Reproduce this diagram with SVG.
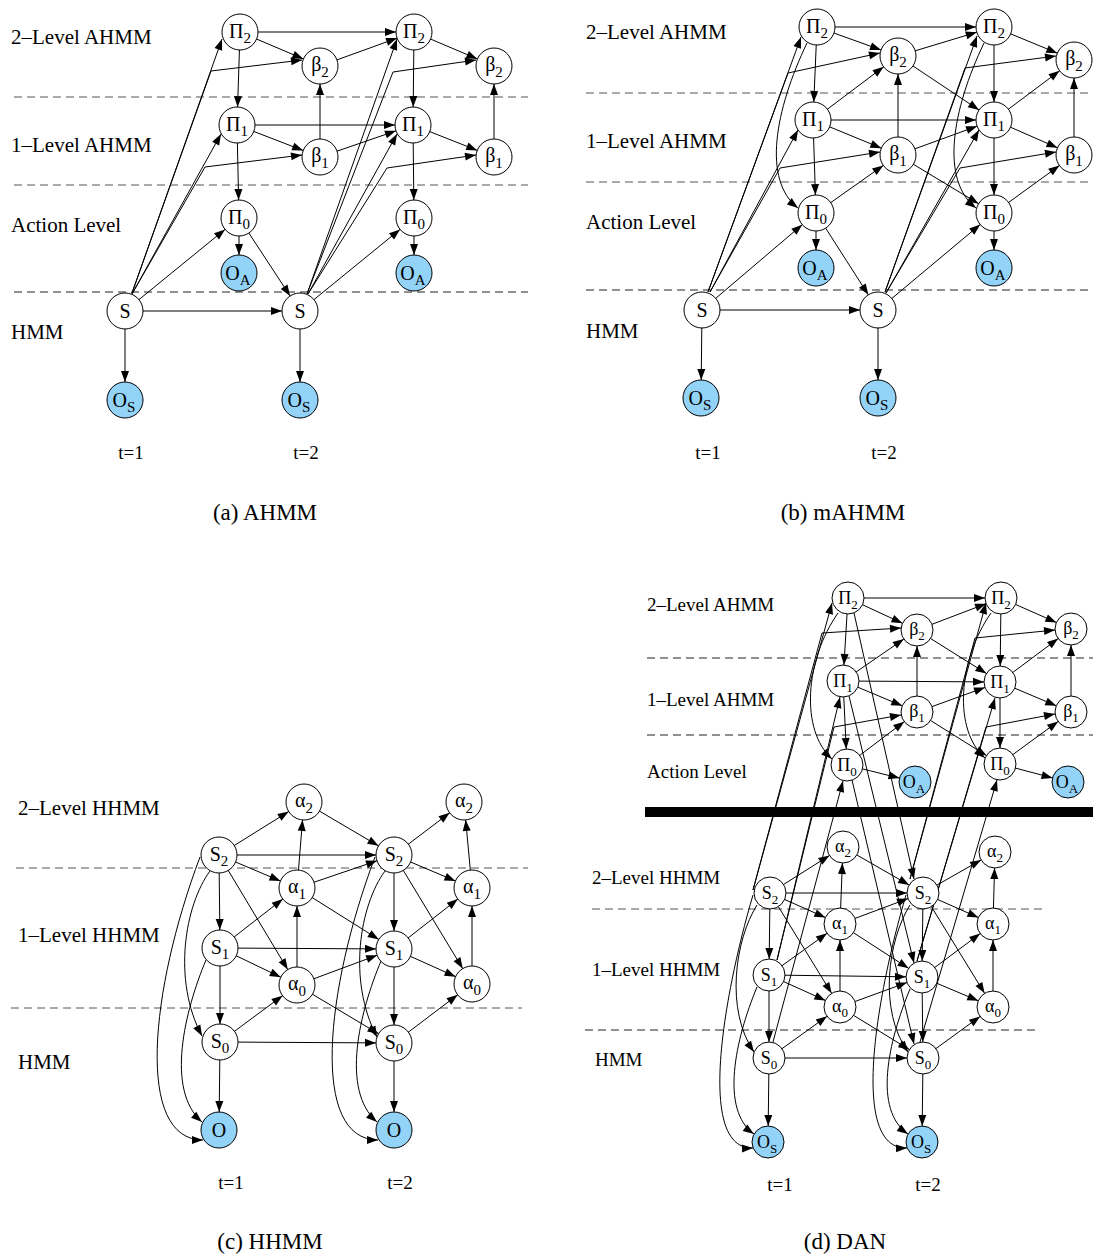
<svg xmlns="http://www.w3.org/2000/svg" width="1094" height="1257" viewBox="0 0 1094 1257">
<style>
.e{stroke:#000;stroke-width:1;fill:none}
.m18{marker-end:url(#m18)}
.m16{marker-end:url(#m16)}
.m0{marker-end:url(#m0)}
.n{fill:#fff;stroke:#000;stroke-width:1}
.o{fill:#94d3f8;stroke:#000;stroke-width:1}
.d{stroke:#555;stroke-width:1;stroke-dasharray:8 5;fill:none}
.dk{stroke:#222;stroke-width:1;stroke-dasharray:8 5;fill:none}
text{font-family:"Liberation Serif","Times New Roman",serif;fill:#000}
.lb{font-size:21px}
.lbd{font-size:19px}
.t{font-size:19px;text-anchor:middle}
.cap{font-size:23px;text-anchor:middle}
.nt{font-size:20px;text-anchor:middle}
.ntd{font-size:18px;text-anchor:middle}
.sb{font-size:15px}
.sbd{font-size:13px}
</style>
<defs>
<marker id="m18" viewBox="0 0 11 8" markerWidth="11" markerHeight="8" refX="29" refY="4" orient="auto" markerUnits="userSpaceOnUse" overflow="visible"><path d="M0,0 L11,4 L0,8 z" fill="#000"/></marker>
<marker id="m16" viewBox="0 0 11 8" markerWidth="11" markerHeight="8" refX="27" refY="4" orient="auto" markerUnits="userSpaceOnUse" overflow="visible"><path d="M0,0 L11,4 L0,8 z" fill="#000"/></marker>
<marker id="m0" viewBox="0 0 11 8" markerWidth="11" markerHeight="8" refX="11" refY="4" orient="auto" markerUnits="userSpaceOnUse" overflow="visible"><path d="M0,0 L11,4 L0,8 z" fill="#000"/></marker>
</defs>
<rect x="0" y="0" width="1094" height="1257" fill="#fff"/>

<g id="separators">
<line class="d" x1="14" y1="97" x2="528" y2="97"/>
<line class="d" x1="14" y1="185" x2="528" y2="185"/>
<line class="dk" x1="14" y1="292" x2="528" y2="292"/>
<line class="d" x1="586" y1="93" x2="1090" y2="93"/>
<line class="d" x1="586" y1="182" x2="1090" y2="182"/>
<line class="dk" x1="586" y1="290" x2="1090" y2="290"/>
<line class="d" x1="16" y1="868" x2="528" y2="868"/>
<line class="d" x1="11" y1="1008" x2="522" y2="1008"/>
<line class="dk" x1="647" y1="658" x2="1093" y2="658"/>
<line class="dk" x1="647" y1="735" x2="1093" y2="735"/>
<line class="d" x1="592" y1="909" x2="1042" y2="909"/>
<line class="dk" x1="585" y1="1030" x2="1035" y2="1030"/>
<rect x="645" y="807" width="448" height="10" fill="#000"/>
</g>

<g id="labels">
<text class="lb" x="11" y="44">2–Level AHMM</text>
<text class="lb" x="11" y="152">1–Level AHMM</text>
<text class="lb" x="11" y="232">Action Level</text>
<text class="lb" x="11" y="339">HMM</text>
<text class="t" x="131" y="459">t=1</text>
<text class="t" x="306" y="459">t=2</text>
<text class="cap" x="265" y="520">(a) AHMM</text>
<text class="lb" x="586" y="39">2–Level AHMM</text>
<text class="lb" x="586" y="148">1–Level AHMM</text>
<text class="lb" x="586" y="229">Action Level</text>
<text class="lb" x="586" y="338">HMM</text>
<text class="t" x="708" y="459">t=1</text>
<text class="t" x="884" y="459">t=2</text>
<text class="cap" x="843" y="520">(b) mAHMM</text>
<text class="lb" x="18" y="815">2–Level HHMM</text>
<text class="lb" x="18" y="942">1–Level HHMM</text>
<text class="lb" x="18" y="1069">HMM</text>
<text class="t" x="231" y="1189">t=1</text>
<text class="t" x="400" y="1189">t=2</text>
<text class="cap" x="270" y="1249">(c) HHMM</text>
<text class="lbd" x="647" y="611">2–Level AHMM</text>
<text class="lbd" x="647" y="706">1–Level AHMM</text>
<text class="lbd" x="647" y="778">Action Level</text>
<text class="lbd" x="592" y="884">2–Level HHMM</text>
<text class="lbd" x="592" y="976">1–Level HHMM</text>
<text class="lbd" x="595" y="1066">HMM</text>
<text class="t" x="780" y="1191">t=1</text>
<text class="t" x="928" y="1191">t=2</text>
<text class="cap" x="845" y="1249">(d) DAN</text>
</g>

<g id="connectors">
<!-- (a) -->
<g class="e m18">
<line x1="240" y1="32" x2="414" y2="32"/>
<line x1="240" y1="32" x2="320" y2="66"/>
<line x1="320" y1="66" x2="414" y2="32"/>
<line x1="414" y1="32" x2="494" y2="66"/>
<line x1="240" y1="32" x2="237" y2="125"/>
<line x1="414" y1="32" x2="413" y2="125"/>
<line x1="237" y1="125" x2="239" y2="218"/>
<line x1="413" y1="125" x2="414" y2="218"/>
<line x1="239" y1="218" x2="239" y2="273"/>
<line x1="414" y1="218" x2="414" y2="273"/>
<line x1="320" y1="157" x2="320" y2="66"/>
<line x1="494" y1="157" x2="494" y2="66"/>
<line x1="237" y1="125" x2="413" y2="125"/>
<line x1="237" y1="125" x2="320" y2="157"/>
<line x1="320" y1="157" x2="413" y2="125"/>
<line x1="413" y1="125" x2="494" y2="157"/>
<line x1="125" y1="311" x2="300" y2="311"/>
<line x1="125" y1="311" x2="125" y2="400"/>
<line x1="300" y1="311" x2="300" y2="400"/>
<line x1="239" y1="218" x2="300" y2="311"/>
<line x1="125" y1="311" x2="239" y2="218"/>
<line x1="300" y1="311" x2="414" y2="218"/>
</g>
<g class="e m0">
<line x1="132" y1="293" x2="222" y2="39"/>
<line x1="132" y1="294" x2="221" y2="134"/>
<polyline points="132,293 211,71 302,60"/>
<polyline points="132,294 205,167 302,155"/>
<line x1="307" y1="294" x2="397" y2="39"/>
<line x1="308" y1="294" x2="397" y2="134"/>
<polyline points="307,294 393,72 476,60"/>
<polyline points="308,294 387,168 476,155"/>
</g>
<!-- (b) -->
<g class="e m18">
<line x1="817" y1="27" x2="994" y2="27"/>
<line x1="817" y1="27" x2="898" y2="56"/>
<line x1="898" y1="56" x2="994" y2="27"/>
<line x1="994" y1="27" x2="1074" y2="60"/>
<line x1="817" y1="27" x2="813" y2="120"/>
<line x1="994" y1="27" x2="994" y2="120"/>
<line x1="813" y1="120" x2="816" y2="213"/>
<line x1="994" y1="120" x2="994" y2="213"/>
<line x1="816" y1="213" x2="816" y2="268"/>
<line x1="994" y1="213" x2="994" y2="268"/>
<line x1="898" y1="155" x2="898" y2="56"/>
<line x1="1074" y1="155" x2="1074" y2="60"/>
<line x1="813" y1="120" x2="994" y2="120"/>
<line x1="813" y1="120" x2="898" y2="155"/>
<line x1="898" y1="155" x2="994" y2="120"/>
<line x1="994" y1="120" x2="1074" y2="155"/>
<line x1="813" y1="120" x2="898" y2="56"/>
<line x1="994" y1="120" x2="1074" y2="60"/>
<line x1="816" y1="213" x2="898" y2="155"/>
<line x1="994" y1="213" x2="1074" y2="155"/>
<line x1="898" y1="56" x2="994" y2="120"/>
<line x1="898" y1="155" x2="994" y2="213"/>
<line x1="702" y1="310" x2="878" y2="310"/>
<line x1="702" y1="310" x2="701" y2="398"/>
<line x1="878" y1="310" x2="878" y2="398"/>
<line x1="816" y1="213" x2="878" y2="310"/>
<line x1="702" y1="310" x2="816" y2="213"/>
<line x1="878" y1="310" x2="994" y2="213"/>
</g>
<g class="e m0">
<path d="M807,43 C775,110 762,180 798,208"/>
<path d="M984,43 C952,110 940,180 976,208"/>
<line x1="708" y1="292" x2="801" y2="37"/>
<polyline points="708,292 788,73 880,53"/>
<line x1="710" y1="292" x2="798" y2="130"/>
<polyline points="710,292 780,168 880,152"/>
<line x1="885" y1="292" x2="977" y2="36"/>
<polyline points="885,292 965,68 1056,56"/>
<line x1="886" y1="293" x2="979" y2="130"/>
<polyline points="886,293 960,168 1056,152"/>
</g>
<!-- (c) -->
<g class="e m18">
<line x1="219" y1="855" x2="304" y2="802"/>
<line x1="297" y1="888" x2="304" y2="802"/>
<line x1="304" y1="802" x2="394" y2="855"/>
<line x1="219" y1="855" x2="394" y2="855"/>
<line x1="219" y1="855" x2="297" y2="888"/>
<line x1="297" y1="888" x2="394" y2="855"/>
<line x1="219" y1="855" x2="297" y2="985"/>
<line x1="219" y1="855" x2="220" y2="948"/>
<line x1="220" y1="948" x2="220" y2="1042"/>
<line x1="220" y1="1042" x2="219" y2="1130"/>
<line x1="220" y1="948" x2="297" y2="888"/>
<line x1="220" y1="948" x2="394" y2="949"/>
<line x1="220" y1="948" x2="297" y2="985"/>
<line x1="297" y1="985" x2="297" y2="888"/>
<line x1="297" y1="985" x2="394" y2="949"/>
<line x1="297" y1="888" x2="394" y2="949"/>
<line x1="297" y1="985" x2="394" y2="1043"/>
<line x1="220" y1="1042" x2="297" y2="985"/>
<line x1="220" y1="1042" x2="394" y2="1043"/>
<line x1="394" y1="855" x2="464" y2="802"/>
<line x1="472" y1="888" x2="464" y2="802"/>
<line x1="394" y1="855" x2="472" y2="888"/>
<line x1="394" y1="855" x2="472" y2="984"/>
<line x1="394" y1="855" x2="394" y2="949"/>
<line x1="394" y1="949" x2="394" y2="1043"/>
<line x1="394" y1="1043" x2="394" y2="1130"/>
<line x1="394" y1="949" x2="472" y2="888"/>
<line x1="394" y1="949" x2="472" y2="984"/>
<line x1="472" y1="984" x2="472" y2="888"/>
<line x1="394" y1="1043" x2="472" y2="984"/>
</g>
<g class="e m0">
<path d="M210,871 C185,905 172,980 202,1036"/>
<path d="M206,960 C185,1010 165,1090 202,1122"/>
<path d="M200,857 C150,990 135,1140 203,1140"/>
<path d="M385,871 C360,905 347,980 377,1037"/>
<path d="M381,961 C360,1011 340,1090 377,1122"/>
<path d="M375,857 C325,990 310,1140 378,1140"/>
</g>
<!-- (d) upper -->
<g class="e m16">
<line x1="848" y1="598" x2="1001" y2="598"/>
<line x1="848" y1="598" x2="917" y2="630"/>
<line x1="917" y1="630" x2="1001" y2="598"/>
<line x1="1001" y1="598" x2="1071" y2="629"/>
<line x1="848" y1="598" x2="843" y2="681"/>
<line x1="1001" y1="598" x2="1000" y2="682"/>
<line x1="843" y1="681" x2="847" y2="765"/>
<line x1="1000" y1="682" x2="1000" y2="764"/>
<line x1="917" y1="712" x2="917" y2="630"/>
<line x1="1071" y1="712" x2="1071" y2="629"/>
<line x1="843" y1="681" x2="1000" y2="682"/>
<line x1="843" y1="681" x2="917" y2="712"/>
<line x1="917" y1="712" x2="1000" y2="682"/>
<line x1="1000" y1="682" x2="1071" y2="712"/>
<line x1="843" y1="681" x2="917" y2="630"/>
<line x1="1000" y1="682" x2="1071" y2="629"/>
<line x1="847" y1="765" x2="917" y2="712"/>
<line x1="1000" y1="764" x2="1071" y2="712"/>
<line x1="917" y1="630" x2="1000" y2="682"/>
<line x1="917" y1="712" x2="1000" y2="764"/>
<line x1="847" y1="765" x2="915" y2="782"/>
<line x1="1000" y1="764" x2="1068" y2="782"/>
</g>
<g class="e m0">
<path d="M838,613 C805,660 800,730 832,759"/>
<path d="M991,613 C958,660 953,730 985,758"/>
<line x1="753" y1="890" x2="832" y2="603"/>
<polyline points="753,890 822,633 901,628"/>
<line x1="777" y1="960" x2="840" y2="697"/>
<polyline points="777,960 834,727 901,715"/>
<line x1="773" y1="1042" x2="843" y2="781"/>
<line x1="910" y1="879" x2="986" y2="603"/>
<polyline points="910,879 975,638 1055,630"/>
<line x1="917" y1="961" x2="995" y2="698"/>
<polyline points="917,961 986,727 1055,714"/>
<line x1="920" y1="1042" x2="997" y2="780"/>
<line x1="854" y1="613" x2="914" y2="879"/>
<line x1="849" y1="696" x2="914" y2="963"/>
<line x1="852" y1="780" x2="914" y2="1044"/>
</g>
<!-- (d) lower -->
<g class="e m16">
<line x1="770" y1="893" x2="843" y2="847"/>
<line x1="840" y1="924" x2="843" y2="847"/>
<line x1="843" y1="847" x2="923" y2="893"/>
<line x1="770" y1="893" x2="923" y2="893"/>
<line x1="770" y1="893" x2="840" y2="924"/>
<line x1="840" y1="924" x2="923" y2="893"/>
<line x1="770" y1="893" x2="840" y2="1007"/>
<line x1="770" y1="893" x2="769" y2="975"/>
<line x1="769" y1="975" x2="769" y2="1058"/>
<line x1="769" y1="1058" x2="768" y2="1142"/>
<line x1="769" y1="975" x2="840" y2="924"/>
<line x1="769" y1="975" x2="922" y2="977"/>
<line x1="769" y1="975" x2="840" y2="1007"/>
<line x1="840" y1="1007" x2="840" y2="924"/>
<line x1="840" y1="1007" x2="922" y2="977"/>
<line x1="840" y1="924" x2="922" y2="977"/>
<line x1="840" y1="1007" x2="923" y2="1058"/>
<line x1="769" y1="1058" x2="840" y2="1007"/>
<line x1="769" y1="1058" x2="923" y2="1058"/>
<line x1="923" y1="893" x2="995" y2="852"/>
<line x1="993" y1="924" x2="995" y2="852"/>
<line x1="923" y1="893" x2="993" y2="924"/>
<line x1="923" y1="893" x2="993" y2="1007"/>
<line x1="923" y1="893" x2="922" y2="977"/>
<line x1="922" y1="977" x2="923" y2="1058"/>
<line x1="923" y1="1058" x2="922" y2="1142"/>
<line x1="922" y1="977" x2="993" y2="924"/>
<line x1="922" y1="977" x2="993" y2="1007"/>
<line x1="993" y1="1007" x2="993" y2="924"/>
<line x1="923" y1="1058" x2="993" y2="1007"/>
</g>
<g class="e m0">
<path d="M757,905 C735,940 725,1010 754,1052"/>
<path d="M757,987 C735,1040 720,1110 754,1134"/>
<path d="M753,895 C725,990 695,1150 753,1148"/>
<path d="M910,905 C888,940 878,1010 908,1052"/>
<path d="M910,989 C888,1042 873,1110 908,1134"/>
<path d="M906,895 C878,990 848,1150 907,1148"/>
</g>
</g>

<!-- nodes (a) -->
<g id="a-pi2-t1"><circle class="n" cx="240" cy="32" r="18"/><text class="nt" x="240" y="38">Π<tspan class="sb" dy="5">2</tspan></text></g>
<g id="a-beta2-t1"><circle class="n" cx="320" cy="66" r="18"/><text class="nt" x="320" y="71">β<tspan class="sb" dy="6">2</tspan></text></g>
<g id="a-pi2-t2"><circle class="n" cx="414" cy="32" r="18"/><text class="nt" x="414" y="38">Π<tspan class="sb" dy="5">2</tspan></text></g>
<g id="a-beta2-t2"><circle class="n" cx="494" cy="66" r="18"/><text class="nt" x="494" y="71">β<tspan class="sb" dy="6">2</tspan></text></g>
<g id="a-pi1-t1"><circle class="n" cx="237" cy="125" r="18"/><text class="nt" x="237" y="131">Π<tspan class="sb" dy="5">1</tspan></text></g>
<g id="a-beta1-t1"><circle class="n" cx="320" cy="157" r="18"/><text class="nt" x="320" y="162">β<tspan class="sb" dy="6">1</tspan></text></g>
<g id="a-pi1-t2"><circle class="n" cx="413" cy="125" r="18"/><text class="nt" x="413" y="131">Π<tspan class="sb" dy="5">1</tspan></text></g>
<g id="a-beta1-t2"><circle class="n" cx="494" cy="157" r="18"/><text class="nt" x="494" y="162">β<tspan class="sb" dy="6">1</tspan></text></g>
<g id="a-pi0-t1"><circle class="n" cx="239" cy="218" r="18"/><text class="nt" x="239" y="224">Π<tspan class="sb" dy="5">0</tspan></text></g>
<g id="a-pi0-t2"><circle class="n" cx="414" cy="218" r="18"/><text class="nt" x="414" y="224">Π<tspan class="sb" dy="5">0</tspan></text></g>
<g id="a-oa-t1"><circle class="o" cx="239" cy="273" r="18"/><text class="nt" x="238" y="280">O<tspan class="sb" dy="5">A</tspan></text></g>
<g id="a-oa-t2"><circle class="o" cx="414" cy="273" r="18"/><text class="nt" x="413" y="280">O<tspan class="sb" dy="5">A</tspan></text></g>
<g id="a-s-t1"><circle class="n" cx="125" cy="311" r="18"/><text class="nt" x="125" y="318">S</text></g>
<g id="a-s-t2"><circle class="n" cx="300" cy="311" r="18"/><text class="nt" x="300" y="318">S</text></g>
<g id="a-os-t1"><circle class="o" cx="125" cy="400" r="18"/><text class="nt" x="124" y="407">O<tspan class="sb" dy="5">S</tspan></text></g>
<g id="a-os-t2"><circle class="o" cx="300" cy="400" r="18"/><text class="nt" x="299" y="407">O<tspan class="sb" dy="5">S</tspan></text></g>

<!-- nodes (b) -->
<g id="b-pi2-t1"><circle class="n" cx="817" cy="27" r="18"/><text class="nt" x="817" y="33">Π<tspan class="sb" dy="5">2</tspan></text></g>
<g id="b-beta2-t1"><circle class="n" cx="898" cy="56" r="18"/><text class="nt" x="898" y="61">β<tspan class="sb" dy="6">2</tspan></text></g>
<g id="b-pi2-t2"><circle class="n" cx="994" cy="27" r="18"/><text class="nt" x="994" y="33">Π<tspan class="sb" dy="5">2</tspan></text></g>
<g id="b-beta2-t2"><circle class="n" cx="1074" cy="60" r="18"/><text class="nt" x="1074" y="65">β<tspan class="sb" dy="6">2</tspan></text></g>
<g id="b-pi1-t1"><circle class="n" cx="813" cy="120" r="18"/><text class="nt" x="813" y="126">Π<tspan class="sb" dy="5">1</tspan></text></g>
<g id="b-beta1-t1"><circle class="n" cx="898" cy="155" r="18"/><text class="nt" x="898" y="160">β<tspan class="sb" dy="6">1</tspan></text></g>
<g id="b-pi1-t2"><circle class="n" cx="994" cy="120" r="18"/><text class="nt" x="994" y="126">Π<tspan class="sb" dy="5">1</tspan></text></g>
<g id="b-beta1-t2"><circle class="n" cx="1074" cy="155" r="18"/><text class="nt" x="1074" y="160">β<tspan class="sb" dy="6">1</tspan></text></g>
<g id="b-pi0-t1"><circle class="n" cx="816" cy="213" r="18"/><text class="nt" x="816" y="219">Π<tspan class="sb" dy="5">0</tspan></text></g>
<g id="b-pi0-t2"><circle class="n" cx="994" cy="213" r="18"/><text class="nt" x="994" y="219">Π<tspan class="sb" dy="5">0</tspan></text></g>
<g id="b-oa-t1"><circle class="o" cx="816" cy="268" r="18"/><text class="nt" x="815" y="275">O<tspan class="sb" dy="5">A</tspan></text></g>
<g id="b-oa-t2"><circle class="o" cx="994" cy="268" r="18"/><text class="nt" x="993" y="275">O<tspan class="sb" dy="5">A</tspan></text></g>
<g id="b-s-t1"><circle class="n" cx="702" cy="310" r="18"/><text class="nt" x="702" y="317">S</text></g>
<g id="b-s-t2"><circle class="n" cx="878" cy="310" r="18"/><text class="nt" x="878" y="317">S</text></g>
<g id="b-os-t1"><circle class="o" cx="701" cy="398" r="18"/><text class="nt" x="700" y="405">O<tspan class="sb" dy="5">S</tspan></text></g>
<g id="b-os-t2"><circle class="o" cx="878" cy="398" r="18"/><text class="nt" x="877" y="405">O<tspan class="sb" dy="5">S</tspan></text></g>

<!-- nodes (c) -->
<g id="c-alpha2-t1"><circle class="n" cx="304" cy="802" r="18"/><text class="nt" x="304" y="807">α<tspan class="sb" dy="6">2</tspan></text></g>
<g id="c-alpha2-t2"><circle class="n" cx="464" cy="802" r="18"/><text class="nt" x="464" y="807">α<tspan class="sb" dy="6">2</tspan></text></g>
<g id="c-s2-t1"><circle class="n" cx="219" cy="855" r="18"/><text class="nt" x="219" y="861">S<tspan class="sb" dy="5">2</tspan></text></g>
<g id="c-s2-t2"><circle class="n" cx="394" cy="855" r="18"/><text class="nt" x="394" y="861">S<tspan class="sb" dy="5">2</tspan></text></g>
<g id="c-alpha1-t1"><circle class="n" cx="297" cy="888" r="18"/><text class="nt" x="297" y="893">α<tspan class="sb" dy="6">1</tspan></text></g>
<g id="c-alpha1-t2"><circle class="n" cx="472" cy="888" r="18"/><text class="nt" x="472" y="893">α<tspan class="sb" dy="6">1</tspan></text></g>
<g id="c-s1-t1"><circle class="n" cx="220" cy="948" r="18"/><text class="nt" x="220" y="954">S<tspan class="sb" dy="5">1</tspan></text></g>
<g id="c-s1-t2"><circle class="n" cx="394" cy="949" r="18"/><text class="nt" x="394" y="955">S<tspan class="sb" dy="5">1</tspan></text></g>
<g id="c-alpha0-t1"><circle class="n" cx="297" cy="985" r="18"/><text class="nt" x="297" y="990">α<tspan class="sb" dy="6">0</tspan></text></g>
<g id="c-alpha0-t2"><circle class="n" cx="472" cy="984" r="18"/><text class="nt" x="472" y="989">α<tspan class="sb" dy="6">0</tspan></text></g>
<g id="c-s0-t1"><circle class="n" cx="220" cy="1042" r="18"/><text class="nt" x="220" y="1048">S<tspan class="sb" dy="5">0</tspan></text></g>
<g id="c-s0-t2"><circle class="n" cx="394" cy="1043" r="18"/><text class="nt" x="394" y="1049">S<tspan class="sb" dy="5">0</tspan></text></g>
<g id="c-o-t1"><circle class="o" cx="219" cy="1130" r="18"/><text class="nt" x="219" y="1137">O</text></g>
<g id="c-o-t2"><circle class="o" cx="394" cy="1130" r="18"/><text class="nt" x="394" y="1137">O</text></g>

<!-- nodes (d) -->
<g id="d-pi2-t1"><circle class="n" cx="848" cy="598" r="16"/><text class="ntd" x="848" y="604">Π<tspan class="sbd" dy="4.5">2</tspan></text></g>
<g id="d-beta2-t1"><circle class="n" cx="917" cy="630" r="16"/><text class="ntd" x="917" y="635">β<tspan class="sbd" dy="5">2</tspan></text></g>
<g id="d-pi2-t2"><circle class="n" cx="1001" cy="598" r="16"/><text class="ntd" x="1001" y="604">Π<tspan class="sbd" dy="4.5">2</tspan></text></g>
<g id="d-beta2-t2"><circle class="n" cx="1071" cy="629" r="16"/><text class="ntd" x="1071" y="634">β<tspan class="sbd" dy="5">2</tspan></text></g>
<g id="d-pi1-t1"><circle class="n" cx="843" cy="681" r="16"/><text class="ntd" x="843" y="687">Π<tspan class="sbd" dy="4.5">1</tspan></text></g>
<g id="d-beta1-t1"><circle class="n" cx="917" cy="712" r="16"/><text class="ntd" x="917" y="717">β<tspan class="sbd" dy="5">1</tspan></text></g>
<g id="d-pi1-t2"><circle class="n" cx="1000" cy="682" r="16"/><text class="ntd" x="1000" y="688">Π<tspan class="sbd" dy="4.5">1</tspan></text></g>
<g id="d-beta1-t2"><circle class="n" cx="1071" cy="712" r="16"/><text class="ntd" x="1071" y="717">β<tspan class="sbd" dy="5">1</tspan></text></g>
<g id="d-pi0-t1"><circle class="n" cx="847" cy="765" r="16"/><text class="ntd" x="847" y="771">Π<tspan class="sbd" dy="4.5">0</tspan></text></g>
<g id="d-oa-t1"><circle class="o" cx="915" cy="782" r="16"/><text class="ntd" x="914" y="788">O<tspan class="sbd" dy="5">A</tspan></text></g>
<g id="d-pi0-t2"><circle class="n" cx="1000" cy="764" r="16"/><text class="ntd" x="1000" y="770">Π<tspan class="sbd" dy="4.5">0</tspan></text></g>
<g id="d-oa-t2"><circle class="o" cx="1068" cy="782" r="16"/><text class="ntd" x="1067" y="788">O<tspan class="sbd" dy="5">A</tspan></text></g>
<g id="d-alpha2-t1"><circle class="n" cx="843" cy="847" r="16"/><text class="ntd" x="843" y="852">α<tspan class="sbd" dy="5">2</tspan></text></g>
<g id="d-alpha2-t2"><circle class="n" cx="995" cy="852" r="16"/><text class="ntd" x="995" y="857">α<tspan class="sbd" dy="5">2</tspan></text></g>
<g id="d-s2-t1"><circle class="n" cx="770" cy="893" r="16"/><text class="ntd" x="770" y="899">S<tspan class="sbd" dy="4.5">2</tspan></text></g>
<g id="d-s2-t2"><circle class="n" cx="923" cy="893" r="16"/><text class="ntd" x="923" y="899">S<tspan class="sbd" dy="4.5">2</tspan></text></g>
<g id="d-alpha1-t1"><circle class="n" cx="840" cy="924" r="16"/><text class="ntd" x="840" y="929">α<tspan class="sbd" dy="5">1</tspan></text></g>
<g id="d-alpha1-t2"><circle class="n" cx="993" cy="924" r="16"/><text class="ntd" x="993" y="929">α<tspan class="sbd" dy="5">1</tspan></text></g>
<g id="d-s1-t1"><circle class="n" cx="769" cy="975" r="16"/><text class="ntd" x="769" y="981">S<tspan class="sbd" dy="4.5">1</tspan></text></g>
<g id="d-s1-t2"><circle class="n" cx="922" cy="977" r="16"/><text class="ntd" x="922" y="983">S<tspan class="sbd" dy="4.5">1</tspan></text></g>
<g id="d-alpha0-t1"><circle class="n" cx="840" cy="1007" r="16"/><text class="ntd" x="840" y="1012">α<tspan class="sbd" dy="5">0</tspan></text></g>
<g id="d-alpha0-t2"><circle class="n" cx="993" cy="1007" r="16"/><text class="ntd" x="993" y="1012">α<tspan class="sbd" dy="5">0</tspan></text></g>
<g id="d-s0-t1"><circle class="n" cx="769" cy="1058" r="16"/><text class="ntd" x="769" y="1064">S<tspan class="sbd" dy="4.5">0</tspan></text></g>
<g id="d-s0-t2"><circle class="n" cx="923" cy="1058" r="16"/><text class="ntd" x="923" y="1064">S<tspan class="sbd" dy="4.5">0</tspan></text></g>
<g id="d-os-t1"><circle class="o" cx="768" cy="1142" r="16"/><text class="ntd" x="767" y="1148">O<tspan class="sbd" dy="5">S</tspan></text></g>
<g id="d-os-t2"><circle class="o" cx="922" cy="1142" r="16"/><text class="ntd" x="921" y="1148">O<tspan class="sbd" dy="5">S</tspan></text></g>
</svg>
